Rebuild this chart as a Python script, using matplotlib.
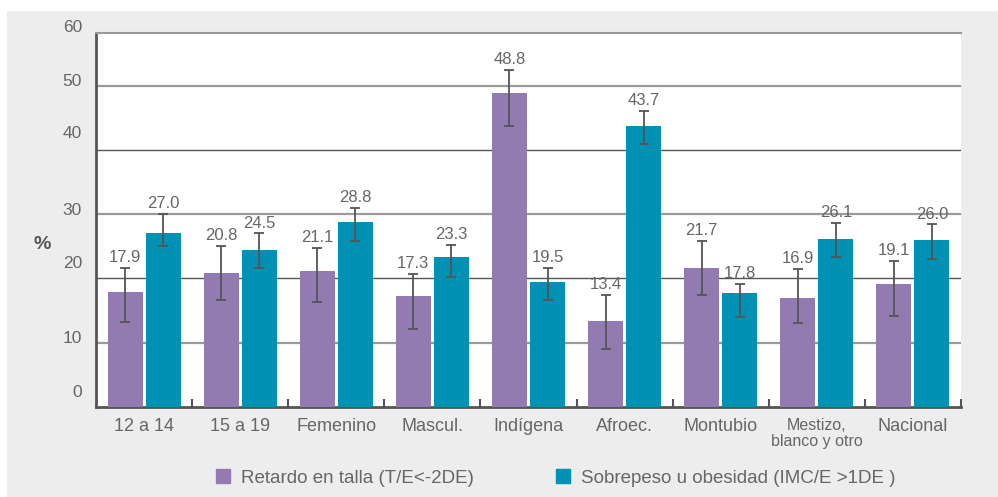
import matplotlib.pyplot as plt
import numpy as np
from matplotlib.patches import Patch, Rectangle

categories = ["12 a 14", "15 a 19", "Femenino", "Mascul.", "Indígena",
              "Afroec.", "Montubio", "Mestizo,\nblanco y otro", "Nacional"]

# Retardo en talla (T/E<-2DE)
retardo = [17.9, 20.8, 21.1, 17.3, 48.8, 13.4, 21.7, 16.9, 19.1]
retardo_low = [13.3, 16.6, 16.3, 12.2, 43.8, 9.0, 17.4, 13.0, 14.1]
retardo_high = [21.7, 25.1, 24.8, 20.7, 52.4, 17.5, 25.9, 21.5, 22.7]

# Sobrepeso u obesidad (IMC/E >1DE )
sobrepeso = [27.0, 24.5, 28.8, 23.3, 19.5, 43.7, 17.8, 26.1, 26.0]
sobrepeso_low = [25.0, 21.7, 25.8, 20.2, 16.6, 41.0, 14.0, 23.4, 23.1]
sobrepeso_high = [30.1, 27.0, 31.0, 25.2, 21.7, 46.1, 19.2, 28.6, 28.4]

ytick_labels = ["0", "10", "20", "30", "40", "50", "60"]
# the original's tick labels sit a little off the gridlines
ytick_pos = [2.3, 10.7, 22.4, 30.6, 42.5, 50.7, 59.1]

purple = "#927BB0"
teal = "#0091B4"
grey_txt = "#666666"
plt.rcParams['font.family'] = ['Liberation Sans', 'DejaVu Sans']

fig = plt.figure(figsize=(9.98, 4.97), dpi=100)
fig.patches.append(Rectangle((7 / 998, 0), 1, 1 - 11 / 497, transform=fig.transFigure,
                             facecolor="#EDEDED", edgecolor="none", zorder=-10))
ax = fig.add_axes([96 / 998, 1 - 407 / 497, (961 - 96) / 998, (407 - 33) / 497])
ax.set_facecolor("white")

x = np.arange(len(categories))
w = 0.364
off = 0.198
r = np.array(retardo)
s = np.array(sobrepeso)
r_err = [r - np.array(retardo_low), np.array(retardo_high) - r]
s_err = [s - np.array(sobrepeso_low), np.array(sobrepeso_high) - s]
ekw = dict(ecolor="#555555", elinewidth=1.3, capsize=3.5, capthick=1.3)
ax.bar(x - off, r, w, color=purple, yerr=r_err, error_kw=ekw, zorder=3)
ax.bar(x + off, s, w, color=teal, yerr=s_err, error_kw=ekw, zorder=3)

for xi, v, hi in zip(x - off, retardo, retardo_high):
    ax.annotate(f"{v:.1f}", (xi, hi), xytext=(0, 2), textcoords="offset points",
                ha="center", va="bottom", fontsize=12, color=grey_txt)
for xi, v, hi in zip(x + off, sobrepeso, sobrepeso_high):
    ax.annotate(f"{v:.1f}", (xi, hi), xytext=(0, 2), textcoords="offset points",
                ha="center", va="bottom", fontsize=12, color=grey_txt)

ax.set_xlim(-0.5, len(categories) - 0.5)
ax.set_ylim(0, 58.2)

# gridlines, alternating shades as in the original
for g in [10, 20, 30, 40, 50]:
    dark = g in (20, 40)
    ax.axhline(g, color="#555555" if dark else "#9a9a9a", lw=1.0 if dark else 1.6, zorder=1)

ax.spines["right"].set_visible(False)
ax.spines["top"].set_color("#999999")
ax.spines["top"].set_linewidth(1.5)
for sp in ["left", "bottom"]:
    ax.spines[sp].set_color("#555555")
    ax.spines[sp].set_linewidth(2)

ax.set_yticks([])
for pos, lab in zip(ytick_pos, ytick_labels):
    ax.text(-14 / 865, pos, lab, transform=ax.get_yaxis_transform(), ha="right",
            va="center", fontsize=12.5, color=grey_txt, clip_on=False)

ax.set_xticks(np.arange(len(categories)) + 0.5)
ax.set_xticklabels([])
ax.tick_params(axis="x", which="major", direction="in", length=6, width=1.5, color="#555555")
ax.set_xticks(x, minor=True)
ax.set_xticklabels(categories, minor=True, fontsize=13, color=grey_txt)
ax.tick_params(axis="x", which="minor", length=0, pad=8)
for lbl in ax.get_xticklabels(minor=True):
    if "\n" in lbl.get_text():
        lbl.set_fontsize(11.5)
        lbl.set_linespacing(1.05)

fig.text(42.5 / 998, 1 - 244.5 / 497, "%", ha="center", va="center",
         fontsize=14, fontweight="bold", color="#555555")

lkw = dict(loc="center left", frameon=False, fontsize=13.5, handlelength=0.75,
           handleheight=0.7, handletextpad=0.6, borderpad=0, borderaxespad=0,
           labelcolor=grey_txt)
fig.legend(handles=[Patch(color=purple)], labels=["Retardo en talla (T/E<-2DE)"],
           bbox_to_anchor=(216 / 998, 1 - 478 / 497), **lkw)
fig.legend(handles=[Patch(color=teal)], labels=["Sobrepeso u obesidad (IMC/E >1DE )"],
           bbox_to_anchor=(556 / 998, 1 - 478 / 497), **lkw)

fig.savefig("out.png", dpi=100, facecolor="white")
